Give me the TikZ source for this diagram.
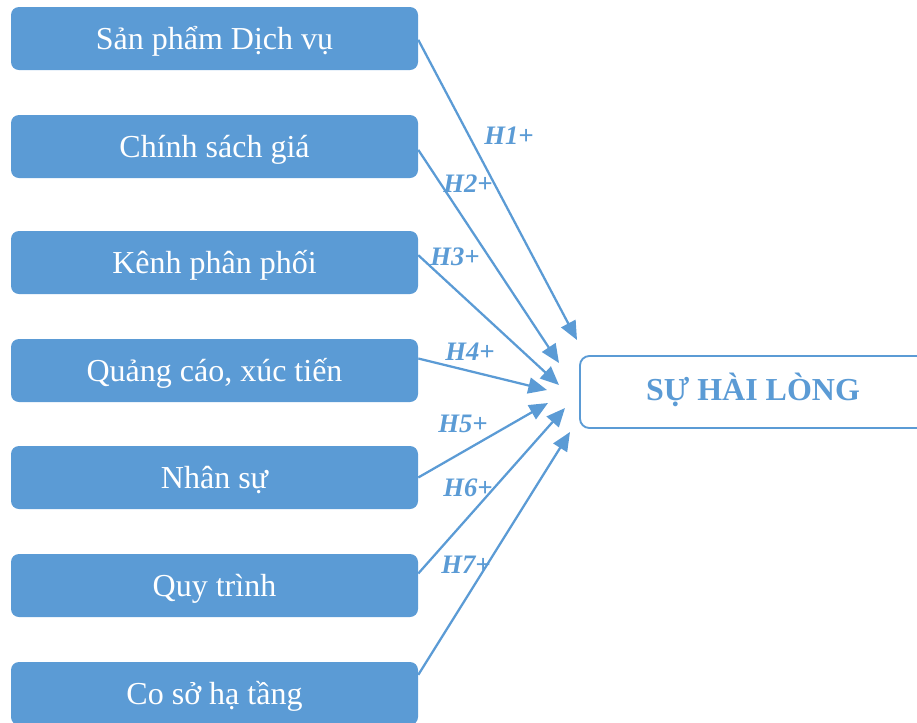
\documentclass[tikz,border=0pt]{standalone}
\usepackage{fontspec}
\setmainfont{Liberation Serif}
\usetikzlibrary{arrows.meta}
\definecolor{boxblue}{HTML}{5B9BD5}
\begin{document}
\begin{tikzpicture}[x=0.75pt,y=-0.75pt,
  factor/.style={rectangle, rounded corners=6pt, fill=boxblue, draw=none,
    minimum width=305.25pt, minimum height=47.25pt, inner sep=0pt,
    text height=20pt, text depth=3.5pt,
    text=white, font=\fontsize{24}{28}\selectfont},
  outcome/.style={rectangle, rounded corners=7pt, fill=white, draw=boxblue, line width=1.4pt,
    minimum width=259.5pt, minimum height=54pt, inner sep=0pt,
    text height=16pt, text depth=4pt,
    text=boxblue, font=\fontsize{24}{28}\selectfont\bfseries},
  hyp/.style={text=boxblue, font=\fontsize{20}{24}\selectfont\bfseries\itshape, inner sep=0pt},
  link/.style={draw=boxblue, line width=1.7pt, -{Triangle[length=14pt,width=12pt]}}]
\useasboundingbox (0,0) rectangle (917,722);
\node[factor] (b1) at (214.5,38.5) {Sản phẩm Dịch vụ};
\node[factor] (b2) at (214.5,146.5) {Chính sách giá};
\node[factor] (b3) at (214.5,262.5) {Kênh phân phối};
\node[factor] (b4) at (214.5,370.5) {Quảng cáo, xúc tiến};
\node[factor] (b5) at (214.5,477.5) {Nhân sự};
\node[factor] (b6) at (214.5,585.5) {Quy trình};
\node[factor] (b7) at (214.5,693.5) {Co sở hạ tầng};
\node[outcome] (t) at (753,392) {SỰ HÀI LÒNG};
\coordinate (e1) at (577,340);
\coordinate (e2) at (559,363);
\coordinate (e3) at (559,385);
\coordinate (e4) at (547,390);
\coordinate (e5) at (548,403);
\coordinate (e6) at (565,408);
\coordinate (e7) at (570,432);
\draw[link] ([yshift=-1pt]b1.east) -- (e1);
\draw[link] ([yshift=-2.5pt]b2.east) -- (e2);
\draw[link] ([yshift=5.5pt]b3.east) -- (e3);
\draw[link] ([yshift=9pt]b4.east) -- (e4);
\draw[link] (b5.east) -- (e5);
\draw[link] ([yshift=9pt]b6.east) -- (e6);
\draw[link] ([yshift=14pt]b7.east) -- (e7);
\node[hyp] (h1) at (509,136) {H1+};
\node[hyp] (h2) at (468,184) {H2+};
\node[hyp] (h3) at (455,257) {H3+};
\node[hyp] (h4) at (470,352) {H4+};
\node[hyp] (h5) at (463,424) {H5+};
\node[hyp] (h6) at (468,488) {H6+};
\node[hyp] (h7) at (466,565) {H7+};
\end{tikzpicture}
\end{document}
